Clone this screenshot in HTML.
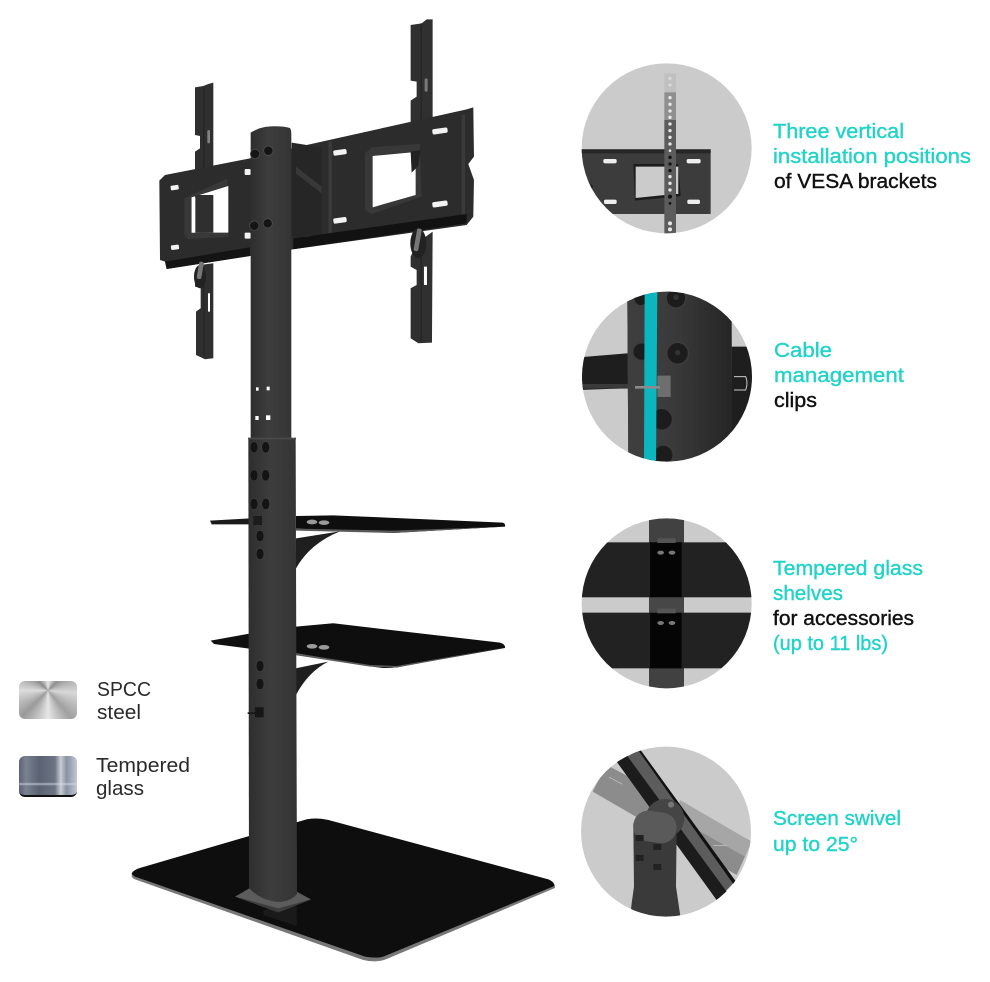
<!DOCTYPE html>
<html><head><meta charset="utf-8"><style>
html,body{margin:0;padding:0;background:#fff}
#w{position:relative;width:990px;height:982px;overflow:hidden;background:#fff}
svg{position:absolute;left:0;top:0}
text{font-family:"Liberation Sans",sans-serif}
.t{fill:#22d3c9;stroke:#22d3c9;stroke-width:.4;font-size:20.5px}
.k{fill:#111;stroke:#111;stroke-width:.4;font-size:20.5px}
.l{fill:#2a2a2a;font-size:20px}
#s1{position:absolute;left:19px;top:681px;width:58px;height:38px;border-radius:6px;background:conic-gradient(from 0deg at 50% 25%,#e8e8e8,#8f8f8f 45deg,#d8d8d8 95deg,#a0a0a0 140deg,#e6e6e6 180deg,#9a9a9a 225deg,#dcdcdc 270deg,#8c8c8c 315deg,#e8e8e8)}
#s2{position:absolute;left:19px;top:756px;width:58px;height:41px;border-radius:6px;box-sizing:border-box;border-bottom:2px solid #111;background:linear-gradient(180deg,transparent 0,transparent 68%,rgba(220,225,235,.45) 70%,rgba(220,225,235,.45) 74%,transparent 76%),linear-gradient(90deg,#5b6475 0,#7a8190 12%,#5a6373 35%,#6d7484 62%,#c8ccd6 72%,#8a91a0 82%,#c2c7d4 100%)}
</style></head><body><div id="w">
<svg width="990" height="982" viewBox="0 0 990 982" xmlns="http://www.w3.org/2000/svg">
<defs>
<linearGradient id="p" x1="0" x2="1" y1="0" y2="0"><stop offset="0" stop-color="#2e2e2e"/><stop offset=".45" stop-color="#3d3d3d"/><stop offset="1" stop-color="#343434"/></linearGradient>
<linearGradient id="q" x1="0" x2="1" y1="0" y2="0"><stop offset="0" stop-color="#444"/><stop offset=".5" stop-color="#383838"/><stop offset="1" stop-color="#252525"/></linearGradient>
<clipPath id="c1"><circle cx="290" cy="265" r="255"/></clipPath>
<clipPath id="c2"><circle cx="291" cy="950" r="255"/></clipPath>
<clipPath id="c3"><circle cx="290" cy="280" r="255"/></clipPath>
<clipPath id="c4"><circle cx="288" cy="965" r="255"/></clipPath>
</defs>

<!-- base -->
<g transform="translate(120,800) scale(.3333)">
<path d="M35 228Q36 212 60 204L560 58Q590 52 625 60L1285 238Q1306 246 1305 264L800 477Q770 490 730 480L45 238Q36 234 35 228Z" fill="#777"/>
<path d="M35 222Q36 212 60 204L560 58Q590 52 625 60L1285 238Q1304 246 1303 258L790 470Q770 476 735 470L45 230Z" fill="#0e0e0e"/>
<polygon points="430,330 530,310 530,378 430,345" fill="#1a1a1a"/>
<polygon points="345,290 390,264 530,275 573,298 475,337" fill="#5c5c5c"/>
<polygon points="345,290 475,325 573,298 475,337" fill="#3c3c3c"/>
</g>

<!-- rails + plate + upper post -->
<g transform="translate(150,10) scale(.3333)">
<polygon points="135,232 160,228 175,222 190,218 190,480 135,490 135,425 150,415 150,378 135,375" fill="#2f2f2f"/>
<polygon points="135,810 150,765 190,760 190,1045 165,1048 138,1035 138,905 152,895 152,835 135,830" fill="#2f2f2f"/>
<polygon points="782,45 815,40 830,28 848,28 848,330 782,345 782,272 800,260 800,215 782,212" fill="#303030"/>
<polygon points="782,740 800,700 848,665 846,998 805,1000 782,985 782,835 800,825 800,780 782,770" fill="#303030"/>
<rect x="812" y="40" width="3" height="290" fill="#222"/>
<rect x="812" y="680" width="3" height="315" fill="#222"/>
<rect x="160" y="232" width="3" height="240" fill="#222"/>
<rect x="160" y="770" width="3" height="270" fill="#222"/>
<rect x="172" y="360" width="8" height="40" rx="4" fill="#bbb" opacity=".6"/>
<rect x="824" y="205" width="9" height="40" rx="4" fill="#aaa" opacity=".6"/>
<rect x="174" y="850" width="6" height="55" fill="#fff"/>
<rect x="822" y="770" width="9" height="55" fill="#fff"/>
<polygon points="28,512 45,495 300,445 470,405 950,298 970,292 972,440 955,462 972,510 970,620 950,645 430,718 300,738 50,777 45,755 30,750" fill="#2c2c2c"/>
<polygon points="45,755 300,712 300,738 50,777" fill="#141414"/>
<polygon points="430,685 950,612 950,640 430,718" fill="#121212"/>
<polygon points="535,395 546,393 546,668 535,670" fill="#3a3a3a"/>
<polygon points="935,315 945,313 945,612 935,614" fill="#3a3a3a"/>
<polygon points="425,398 470,405 515,412 515,670 470,682 425,680" fill="#262626"/>
<polygon points="438,470 515,530 515,550 438,490" fill="#383838"/>
<!-- right window -->
<polygon points="645,430 665,412 810,402 815,560 665,612 645,600" fill="#383838"/>
<polygon points="668,438 797,426 797,555 668,592" fill="#fff"/>
<polygon points="782,425 812,420 805,468 785,488" fill="#222"/>
<!-- left window -->
<polygon points="103,565 232,505 235,680 115,688 103,675" fill="#383838"/>
<polygon points="125,562 235,528 235,668 125,668" fill="#fff"/>
<rect x="135" y="555" width="55" height="113" fill="#2f2f2f"/>
<rect x="125" y="562" width="11" height="106" fill="#fff"/>
<rect x="150" y="605" width="20" height="63" fill="#2f2f2f"/>
<!-- slots -->
<g fill="#f2f2f2">
<rect x="-20" y="-8" width="40" height="16" rx="5" transform="translate(570,427) rotate(-8)"/>
<rect x="-20" y="-8" width="40" height="16" rx="5" transform="translate(570,631) rotate(-8)"/>
<rect x="-23" y="-8" width="46" height="16" rx="5" transform="translate(870,363) rotate(-8)"/>
<rect x="-23" y="-8" width="46" height="16" rx="5" transform="translate(870,582) rotate(-8)"/>
<rect x="-12" y="-7" width="24" height="14" rx="3" transform="translate(74,533) rotate(-8)"/>
<rect x="-12" y="-7" width="24" height="14" rx="3" transform="translate(75,712) rotate(-8)"/>
<rect x="284" y="477" width="18" height="18" rx="3"/>
<rect x="284" y="668" width="18" height="18" rx="3"/>
</g>
<!-- knobs -->
<ellipse cx="150" cy="800" rx="18" ry="35" fill="#222"/>
<ellipse cx="805" cy="700" rx="24" ry="45" fill="#222"/>
<rect x="144" y="755" width="14" height="52" rx="5" fill="#777" transform="rotate(10 150 780)"/>
<rect x="796" y="655" width="14" height="68" rx="5" fill="#777" transform="rotate(10 800 690)"/>
<!-- post -->
<path d="M302 368Q330 350 362 349Q400 348 420 354Q424 360 424 372V1290H302Z" fill="url(#p)"/>
<g fill="#151515" stroke="#555" stroke-width="2">
<circle cx="315" cy="432" r="14"/><circle cx="355" cy="422" r="14"/><circle cx="313" cy="647" r="14"/><circle cx="353" cy="640" r="14"/>
</g>
</g>

<!-- lower post + shelves -->
<g transform="translate(200,370) scale(.3333)">
<!-- left shelf parts -->
<polygon points="30,452 150,445 150,463 35,463" fill="#1b1b1b"/>
<polygon points="32,812 148,791 148,836 42,822" fill="#101010"/>
<!-- right shelves -->
<path d="M288 505L420 484Q330 520 288 595Z" fill="#1f1f1f"/>
<path d="M288 438L400 436L908 458Q918 462 915 470L580 489L288 476Z" fill="#0e0e0e"/>
<polygon points="288,476 580,482 915,470 580,489 288,482" fill="#5a5a5a"/>
<path d="M288 895L385 875Q325 905 288 975Z" fill="#1f1f1f"/>
<polygon points="290,868 328,868 300,890 290,890" fill="#fff"/>
<path d="M288 770L400 760L900 818Q918 824 915 834L590 892Q550 898 510 888L288 850Z" fill="#0e0e0e"/>
<polygon points="288,850 510,885 590,888 915,832 590,893 510,890 288,856" fill="#5a5a5a"/>
<g fill="#9a9a9a"><ellipse cx="336" cy="456" rx="16" ry="7"/><ellipse cx="372" cy="458" rx="16" ry="7"/><ellipse cx="336" cy="829" rx="16" ry="7"/><ellipse cx="372" cy="832" rx="16" ry="7"/></g>
<!-- sleeve -->
<path d="M145 205H287L291 1572Q270 1596 231 1596Q180 1590 147 1554Z" fill="url(#p)"/>
<rect x="144" y="203" width="144" height="5" fill="#4a4a4a"/>
<g fill="#141414" stroke="#4c4c4c" stroke-width="1.5">
<ellipse cx="162" cy="232" rx="12" ry="17"/><ellipse cx="197" cy="232" rx="12" ry="17"/>
<ellipse cx="162" cy="316" rx="12" ry="17"/><ellipse cx="197" cy="316" rx="12" ry="17"/>
<ellipse cx="162" cy="402" rx="12" ry="17"/><ellipse cx="197" cy="402" rx="12" ry="17"/>
<ellipse cx="180" cy="498" rx="12" ry="17"/><ellipse cx="180" cy="552" rx="12" ry="17"/>
<ellipse cx="180" cy="888" rx="12" ry="17"/><ellipse cx="180" cy="942" rx="12" ry="17"/>
</g>
<g fill="#fff"><rect x="168" y="52" width="8" height="10"/><rect x="200" y="50" width="9" height="11"/><rect x="166" y="138" width="10" height="12"/><rect x="198" y="136" width="13" height="14"/></g>
<rect x="160" y="438" width="26" height="27" fill="#1c1c1c"/>
<rect x="165" y="1012" width="26" height="30" fill="#161616"/>
<rect x="143" y="1027" width="25" height="5" fill="#161616"/>
</g>

<!-- circle 1 & 2 -->
<g transform="translate(570,60) scale(.3333)">
<g clip-path="url(#c1)">
<rect width="600" height="540" fill="#cbcbcb"/>
<rect x="30" y="268" width="392" height="194" fill="#3c3c3c"/>
<rect x="30" y="268" width="392" height="12" fill="#262626"/>
<polygon points="30,340 70,380 30,420" fill="#1e1e1e"/>
<polygon points="190,312 325,312 332,408 195,422" fill="#1c1c1c"/>
<polygon points="197,320 285,320 285,405 197,414" fill="#cbcbcb"/>
<rect x="318" y="320" width="7" height="82" fill="#cbcbcb"/>
<g fill="#eee"><rect x="100" y="297" width="40" height="13" rx="5"/><rect x="350" y="297" width="42" height="13" rx="5"/><rect x="102" y="419" width="38" height="13" rx="5"/><rect x="352" y="419" width="38" height="13" rx="5"/></g>
<rect x="283" y="40" width="35" height="57" fill="#c0c0c0"/>
<rect x="283" y="97" width="35" height="83" fill="#8f8f8f"/>
<rect x="283" y="180" width="35" height="345" fill="#5c5c5c"/>
<g fill="#e8e8e8"><circle cx="300" cy="55" r="5" opacity=".6"/><circle cx="300" cy="75" r="5" opacity=".6"/><circle cx="300" cy="113" r="5"/><circle cx="300" cy="133" r="5"/><circle cx="300" cy="153" r="5"/><circle cx="300" cy="172" r="5"/><circle cx="300" cy="192" r="5"/><circle cx="300" cy="212" r="5"/><circle cx="300" cy="232" r="5"/><circle cx="300" cy="252" r="5"/><circle cx="300" cy="272" r="4"/><circle cx="300" cy="350" r="5"/><circle cx="300" cy="370" r="5"/><circle cx="300" cy="390" r="5"/><circle cx="300" cy="490" r="6"/><circle cx="300" cy="508" r="6"/></g>
<g fill="#111"><circle cx="300" cy="292" r="5"/><circle cx="300" cy="312" r="5"/><circle cx="300" cy="332" r="5"/><circle cx="300" cy="410" r="6"/><circle cx="300" cy="430" r="4"/></g>
</g>
<g clip-path="url(#c2)">
<rect y="690" width="600" height="520" fill="#cbcbcb"/>
<polygon points="30,892 175,880 175,985 30,990" fill="#1e1e1e"/>
<rect x="30" y="972" width="145" height="14" fill="#3a3a3a"/>
<rect x="485" y="860" width="70" height="350" fill="#1e1e1e"/>
<path d="M492 950h35q8 20 0 40h-35" fill="none" stroke="#c9c9c9" stroke-width="3"/>
<polygon points="172,720 225,695 380,690 485,775 487,1210 175,1210" fill="url(#q)"/>
<polygon points="172,720 225,700 222,1210 175,1210" fill="#3e3e3e"/>
<g fill="#1c1c1c" stroke="#3c3c3c" stroke-width="5">
<circle cx="318" cy="715" r="30"/><circle cx="323" cy="880" r="33"/><circle cx="275" cy="1078" r="33"/><circle cx="280" cy="1185" r="30"/><circle cx="215" cy="875" r="27"/><circle cx="212" cy="718" r="20"/></g>
<g fill="#333"><circle cx="318" cy="712" r="8"/><circle cx="323" cy="878" r="8"/></g>
<rect x="262" y="947" width="40" height="64" fill="#6e6e6e"/>
<polygon points="224,690 262,690 258,1210 222,1210" fill="#0cb6bf"/>
<rect x="195" y="978" width="75" height="8" fill="#8a8a8a"/>
</g>
</g>

<!-- circle 3 & 4 -->
<g transform="translate(570,510) scale(.3333)">
<g clip-path="url(#c3)">
<rect y="20" width="600" height="520" fill="#cbcbcb"/>
<rect x="237" y="20" width="105" height="520" fill="#414141"/>
<rect x="30" y="97" width="530" height="165" fill="#222"/>
<rect x="30" y="308" width="530" height="167" fill="#222"/>
<rect x="240" y="97" width="95" height="165" fill="#050505"/>
<rect x="240" y="308" width="95" height="167" fill="#050505"/>
<rect x="237" y="262" width="105" height="46" fill="#474747"/>
<rect x="262" y="85" width="55" height="14" fill="#555"/>
<rect x="262" y="296" width="55" height="14" fill="#555"/>
<g fill="#777"><ellipse cx="272" cy="128" rx="10" ry="6"/><ellipse cx="306" cy="128" rx="10" ry="6"/><ellipse cx="272" cy="339" rx="10" ry="6"/><ellipse cx="306" cy="339" rx="10" ry="6"/></g>
</g>
<g clip-path="url(#c4)">
<rect y="700" width="600" height="530" fill="#cbcbcb"/>
<polygon points="110,765 545,995 500,1095 68,845" fill="#8c8c8c"/>
<polygon points="330,870 545,995 525,1040 320,925" fill="#a6a6a6"/>
<rect x="115" y="810" width="45" height="2" fill="#ccc" transform="rotate(28 135 810)"/>
<rect x="430" y="1005" width="40" height="2" fill="#ccc"/>
<polygon points="140,755 205,722 490,1120 440,1170" fill="#5c5c5c"/>
<polygon points="140,755 172,738 470,1145 440,1170" fill="#1c1c1c"/>
<polygon points="205,722 213,722 498,1115 490,1122" fill="#111"/>
<circle cx="285" cy="925" r="58" fill="#454545"/>
<circle cx="303" cy="884" r="9" fill="#777"/>
<polygon points="190,940 320,960 318,1130 332,1225 180,1225 185,1180 192,1130" fill="#3a3a3a"/>
<rect x="190" y="905" width="130" height="92" rx="44" fill="#5a5a5a" transform="rotate(8 255 950)"/>
<g fill="#222"><rect x="197" y="975" width="24" height="18"/><rect x="250" y="1002" width="24" height="18"/><rect x="197" y="1035" width="24" height="18"/><rect x="250" y="1062" width="24" height="18"/></g>
</g>
</g>

<!-- labels -->
<text class="t" x="773" y="138" textLength="131" lengthAdjust="spacingAndGlyphs">Three vertical</text>
<text class="t" x="773" y="163" textLength="198" lengthAdjust="spacingAndGlyphs">installation positions</text>
<text class="k" x="774" y="188" textLength="163" lengthAdjust="spacingAndGlyphs">of VESA brackets</text>
<text class="t" x="774" y="357" textLength="58" lengthAdjust="spacingAndGlyphs">Cable</text>
<text class="t" x="774" y="382" textLength="130" lengthAdjust="spacingAndGlyphs">management</text>
<text class="k" x="774" y="407" textLength="43" lengthAdjust="spacingAndGlyphs">clips</text>
<text class="t" x="773" y="575" textLength="150" lengthAdjust="spacingAndGlyphs">Tempered glass</text>
<text class="t" x="773" y="600" textLength="70" lengthAdjust="spacingAndGlyphs">shelves</text>
<text class="k" x="773" y="625" textLength="141" lengthAdjust="spacingAndGlyphs">for accessories</text>
<text class="t" x="773" y="650" textLength="115" lengthAdjust="spacingAndGlyphs">(up to 11 lbs)</text>
<text class="t" x="773" y="825" textLength="128" lengthAdjust="spacingAndGlyphs">Screen swivel</text>
<text class="t" x="773" y="851" textLength="85" lengthAdjust="spacingAndGlyphs">up to 25°</text>
<text class="l" x="97" y="696" textLength="54" lengthAdjust="spacingAndGlyphs">SPCC</text>
<text class="l" x="97" y="719" textLength="44" lengthAdjust="spacingAndGlyphs">steel</text>
<text class="l" x="96" y="772" textLength="94" lengthAdjust="spacingAndGlyphs">Tempered</text>
<text class="l" x="96" y="795" textLength="48" lengthAdjust="spacingAndGlyphs">glass</text>
</svg>
<div id="s1"></div><div id="s2"></div>
</div></body></html>
